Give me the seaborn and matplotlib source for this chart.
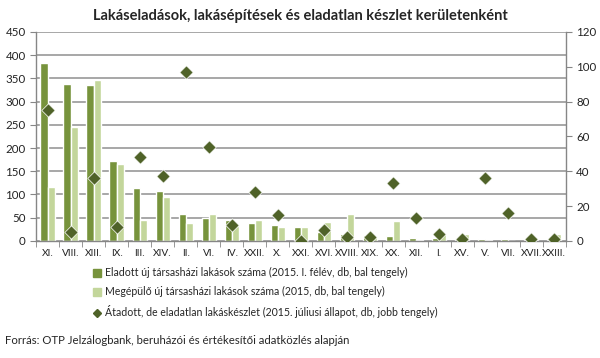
import numpy as np
import pandas as pd
import matplotlib.pyplot as plt
import seaborn as sns
from matplotlib.lines import Line2D

districts = ['XI.', 'VIII.', 'XIII.', 'IX.', 'III.', 'XIV.', 'II.', 'VI.', 'IV.', 'XXII.', 'X.', 'XXI.',
             'XVI.', 'XVIII.', 'XIX.', 'XX.', 'XII.', 'I.', 'XV.', 'V.', 'VII.', 'XVII.', 'XXIII.']
sold = [383, 337, 335, 172, 115, 107, 59, 50, 44, 39, 34, 29,
        19, 16, 12, 11, 7, 7, 7, 4, 4, 1, 2]
built = [117, 245, 346, 165, 45, 95, 38, 58, 33, 45, 29, 29,
         40, 58, 11, 43, 2, 16, 16, 2, 0, 1, 16]
unsold = [75, 5, 36, 8, 48, 37, 97, 54, 9, 28, 15, 0,
          6, 2, 2, 33, 13, 4, 1, 36, 16, 1, 1]

lab_sold = 'Eladott új társasházi lakások száma (2015. I. félév, db, bal tengely)'
lab_built = 'Megépülő új társasházi lakások száma (2015, db, bal tengely)'
lab_unsold = 'Átadott, de eladatlan lakáskészlet (2015. júliusi állapot, db, jobb tengely)'

bars = pd.DataFrame({'kerulet': districts * 2,
                     'db': sold + built,
                     'sor': [lab_sold] * len(districts) + [lab_built] * len(districts)})
pts = pd.DataFrame({'kerulet': districts, 'db': unsold})

sns.set_style('white')
plt.rcParams['font.family'] = ['Lato', 'DejaVu Sans']

fig = plt.figure(figsize=(6, 3.58), dpi=100)
ax = fig.add_axes([0.06, 0.327, 0.883, 0.584])

sns.barplot(data=bars, x='kerulet', y='db', hue='sor', palette=['#77933C', '#C3D69B'],
            width=0.62, ax=ax, legend=False, saturation=1, zorder=2)
ax.set_ylim(0, 450)
ax.set_yticks(range(0, 451, 50))
ax.set_xlim(-0.5, len(districts) - 0.5)
ax.set_xlabel('')
ax.set_ylabel('')

ax2 = ax.twinx()
sns.scatterplot(data=pts, x='kerulet', y='db', marker='D', color='#4F6228', s=46,
                edgecolor='white', linewidth=0.5, ax=ax2, zorder=5)
ax2.set_ylabel('')
ax2.set_ylim(0, 120)
ax2.set_yticks(range(0, 121, 20))
ax2.set_xlim(-0.5, len(districts) - 0.5)

for a in (ax, ax2):
    for s in a.spines.values():
        s.set_visible(False)
ax.spines['left'].set_visible(True)
ax.spines['bottom'].set_visible(True)
ax2.spines['right'].set_visible(True)
for s in (ax.spines['left'], ax.spines['bottom'], ax2.spines['right']):
    s.set_color('#868686')
    s.set_linewidth(1.0)

ax.tick_params(axis='y', labelsize=8.3, length=4, color='#868686', left=True, labelcolor='#222222')
ax2.tick_params(axis='y', labelsize=8.3, length=4, color='#868686', right=True, labelcolor='#222222')
ax.tick_params(axis='x', labelsize=7.3, length=0, pad=6, labelcolor='#222222')
ax.set_xticks(np.arange(len(districts) + 1) - 0.5, minor=True)
ax.tick_params(axis='x', which='minor', length=4, color='#868686', bottom=True)

# gridlines at the left axis ticks, behind the bars
ax.yaxis.grid(True, which='major', color='#8F8F8F', linewidth=1.1, linestyle='-', snap=True)
ax.set_axisbelow(True)

fig.text(0.5, 0.955, 'Lakáseladások, lakásépítések és eladatlan készlet kerületenként',
         ha='center', va='center', fontsize=10.5, fontweight='bold')

handles = [Line2D([], [], marker='s', ls='', color='#77933C', markersize=6),
           Line2D([], [], marker='s', ls='', color='#C3D69B', markersize=6),
           Line2D([], [], marker='D', ls='', color='#4F6228', markersize=4)]
fig.legend(handles, [lab_sold, lab_built, lab_unsold], loc='upper left',
           bbox_to_anchor=(0.148, 0.265), frameon=False, fontsize=7.6,
           handlelength=0.8, handletextpad=0.3, labelspacing=0.75, borderaxespad=0)

fig.text(0.008, 0.05, 'Forrás: OTP Jelzálogbank, beruházói és értékesítői adatközlés alapján',
         ha='left', va='center', fontsize=8.2)

fig.savefig('out.png', dpi=100)
